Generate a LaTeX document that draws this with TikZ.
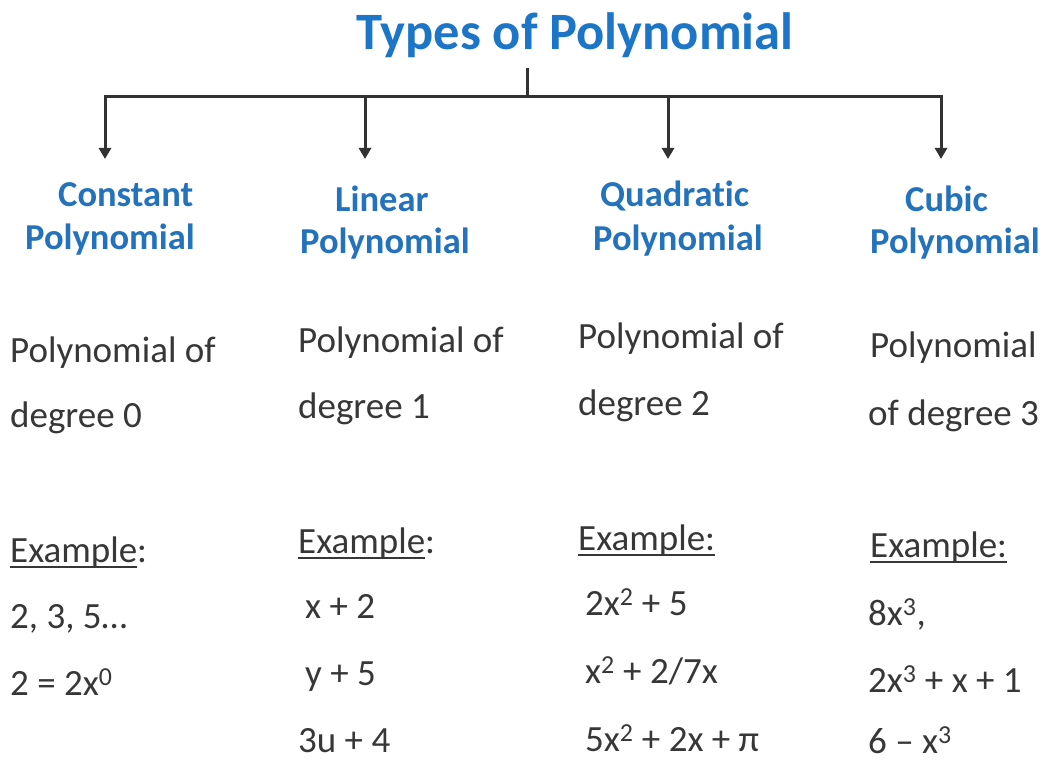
\documentclass[tikz,border=0pt]{standalone}
\usepackage{fontspec}
\setmainfont{Carlito}[Ligatures={NoCommon}]
\usetikzlibrary{arrows.meta}
\definecolor{titleblue}{RGB}{28,117,198}
\definecolor{headblue}{RGB}{36,114,188}
\definecolor{txtgray}{RGB}{55,55,55}
\definecolor{linegray}{RGB}{50,50,50}
\newcommand\myul[1]{\setbox0\hbox{#1}\rlap{\rule[-6pt]{\wd0}{2.4pt}}\box0}
\begin{document}
\begin{tikzpicture}[x=1pt,y=-1pt,
  titletxt/.style={inner sep=0pt,anchor=base west,text=titleblue,font=\fontsize{52.5}{56}\selectfont\bfseries},
  headtxt/.style={inner sep=0pt,anchor=base west,text=headblue,font=\fontsize{36.5}{40}\selectfont\bfseries},
  bodytxt/.style={inner sep=0pt,anchor=base west,text=txtgray,font=\fontsize{37}{40}\selectfont},
  conn/.style={draw=linegray,line width=3pt},
  arr/.style={conn,-{Triangle[width=12pt,length=11pt]}}]
\useasboundingbox (0,0) rectangle (1047,762);
\fill[white] (0,0) rectangle (1047,762);
% title
\node[titletxt] (title) at (356,50) {Types of Polynomial};
% tree
\coordinate (stemtop) at (527,68);
\coordinate (hub) at (527,97);
\coordinate (hl) at (105,97);
\coordinate (hr) at (941,97);
\coordinate (j2) at (365,97);
\coordinate (j3) at (668,97);
\coordinate (a1) at (105,159);
\coordinate (a2) at (365,159);
\coordinate (a3) at (668,159);
\coordinate (a4) at (941,159);
\draw[conn] (stemtop) -- (hub);
\draw[conn,line cap=rect] (hl) -- (hr);
\draw[arr] (hl) -- (a1);
\draw[arr] (j2) -- (a2);
\draw[arr] (j3) -- (a3);
\draw[arr] (hr) -- (a4);
% headings
\node[headtxt] (h1a) at (58,207) {Constant};
\node[headtxt] (h1b) at (25,250) {Polynomial};
\node[headtxt] (h2a) at (335,212) {Linear};
\node[headtxt] (h2b) at (300,254) {Polynomial};
\node[headtxt] (h3a) at (600,207) {Quadratic};
\node[headtxt] (h3b) at (593,251) {Polynomial};
\node[headtxt] (h4a) at (905,212) {Cubic};
\node[headtxt] (h4b) at (870,254) {Polynomial};
% definitions
\node[bodytxt] (d1a) at (10,362) {Polynomial of};
\node[bodytxt] (d1b) at (10,427) {degree 0};
\node[bodytxt] (d2a) at (298,352) {Polynomial of};
\node[bodytxt] (d2b) at (298,418) {degree 1};
\node[bodytxt] (d3a) at (578,348) {Polynomial of};
\node[bodytxt] (d3b) at (578,415) {degree 2};
\node[bodytxt] (d4a) at (870,357) {Polynomial};
\node[bodytxt] (d4b) at (868,425) {of degree 3};
% examples
\node[bodytxt] (e1) at (10,562) {\myul{Example}:};
\node[bodytxt] (e1a) at (10,628) {2, 3, 5…};
\node[bodytxt] (e1b) at (10,695) {2 = 2x\textsuperscript{0}};
\node[bodytxt] (e2) at (298,553) {\myul{Example}:};
\node[bodytxt] (e2a) at (305,618) {x + 2};
\node[bodytxt] (e2b) at (305,685) {y + 5};
\node[bodytxt] (e2c) at (298,752) {3u + 4};
\node[bodytxt] (e3) at (578,550) {\myul{Example:}};
\node[bodytxt] (e3a) at (585,615) {2x\textsuperscript{2} + 5};
\node[bodytxt] (e3b) at (585,683) {x\textsuperscript{2} + 2/7x};
\node[bodytxt] (e3c) at (585,751) {5x\textsuperscript{2} + 2x + π};
\node[bodytxt] (e4) at (870,557) {\myul{Example:}};
\node[bodytxt] (e4a) at (868,625) {8x\textsuperscript{3},};
\node[bodytxt] (e4b) at (868,692) {2x\textsuperscript{3} + x + 1};
\node[bodytxt] (e4c) at (868,753) {6 – x\textsuperscript{3}};
\end{tikzpicture}
\end{document}
